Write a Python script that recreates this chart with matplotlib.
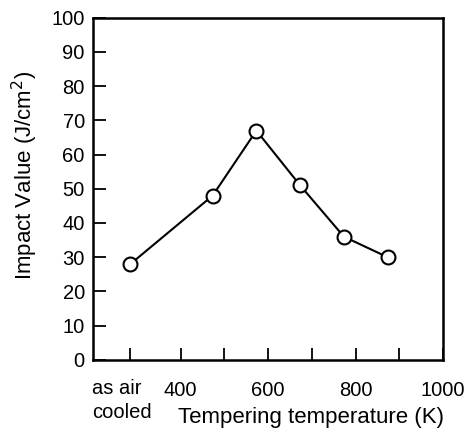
import numpy as np
import matplotlib
matplotlib.use('Agg')
import matplotlib.pyplot as plt

# tempering temperature (K); first point is "as air cooled"
temps = [285, 473, 573, 673, 773, 873]
impact = [28, 48, 67, 51, 36, 30]

xticks = [285, 400, 500, 600, 700, 800, 900, 1000]
xticklabels = ['', '400', '', '600', '', '800', '', '1000']
yticks = list(range(0, 101, 10))

plt.rcParams['font.family'] = ['Liberation Sans', 'DejaVu Sans']

W, H = 473, 432
fig = plt.figure(figsize=(W / 100, H / 100), dpi=100)
ax = fig.add_axes([0.197, 0.167, 0.74, 0.792])

ax.plot(temps, impact, color='black', lw=1.5, marker='o', ms=10,
        mfc='white', mec='black', mew=1.5, zorder=3, clip_on=False)

ax.set_xlim(200, 1000)
ax.set_ylim(0, 100)
ax.set_xticks(xticks)
ax.set_xticklabels(xticklabels, fontsize=14.5)
ax.set_yticks(yticks)
ax.set_yticklabels([str(v) for v in yticks], fontsize=14.5)

ax.tick_params(direction='in', length=9, width=1.3)
ax.tick_params(axis='x', pad=15)
ax.tick_params(axis='y', pad=6)
for s in ax.spines.values():
    s.set_linewidth(1.8)

fig.text(25 / W, 1 - 175 / H, 'Impact Value (J/cm$^2$)', fontsize=16,
         rotation=90, ha='center', va='center')

fig.text(92 / W, 1 - 388 / H, 'as air', fontsize=14.5, ha='left', va='center')
fig.text(92 / W, 1 - 412 / H, 'cooled', fontsize=14.5, ha='left', va='center')
fig.text(311 / W, 1 - 418 / H, 'Tempering temperature (K)', fontsize=16,
         ha='center', va='center')

fig.savefig('out.png', dpi=100)
